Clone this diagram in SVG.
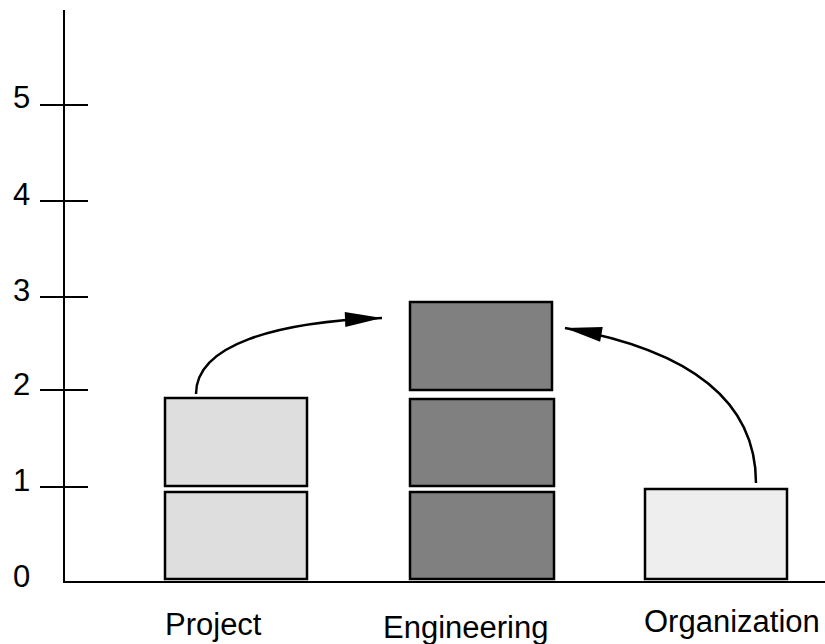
<svg xmlns="http://www.w3.org/2000/svg" width="825" height="644" viewBox="0 0 825 644">
<style>
text{font-family:"Liberation Sans",Arial,sans-serif;font-size:31px;fill:#000}
.ax{stroke:#000;stroke-width:2;fill:none}
.box{stroke:#000;stroke-width:2.5}
.proj{fill:#dedede}
.eng{fill:#808080}
.org{fill:#eeeeee}
.arc{stroke:#000;stroke-width:2.5;fill:none;marker-end:url(#ah)}
</style>
<defs>
<marker id="ah" markerUnits="userSpaceOnUse" markerWidth="40" markerHeight="16" refX="37" refY="7.5" orient="auto" overflow="visible">
<path d="M0,0 L37,7.5 L0,15 Z" fill="#000"/>
</marker>
</defs>
<g id="axes">
<line class="ax" x1="64" y1="10" x2="64" y2="583"/>
<line class="ax" x1="63" y1="582" x2="825" y2="582"/>
<line class="ax" x1="40" y1="105" x2="88" y2="105"/>
<line class="ax" x1="40" y1="201" x2="88" y2="201"/>
<line class="ax" x1="40" y1="297" x2="88" y2="297"/>
<line class="ax" x1="40" y1="390" x2="88" y2="390"/>
<line class="ax" x1="40" y1="487" x2="88" y2="487"/>
<text x="13" y="108">5</text>
<text x="13" y="205">4</text>
<text x="13" y="301">3</text>
<text x="13" y="395">2</text>
<text x="13" y="491">1</text>
<text x="13" y="587">0</text>
</g>
<g id="project">
<rect class="box proj" x="165" y="398" width="142" height="88"/>
<rect class="box proj" x="165" y="492" width="142" height="87"/>
<text x="165" y="635">Project</text>
</g>
<g id="engineering">
<rect class="box eng" x="410" y="302" width="142" height="88"/>
<rect class="box eng" x="410" y="399" width="144" height="87"/>
<rect class="box eng" x="410" y="492" width="144" height="87"/>
<text x="383" y="638">Engineering</text>
</g>
<g id="organization">
<rect class="box org" x="645" y="489" width="142" height="90"/>
<text x="644" y="632">Organization</text>
</g>
<g id="connectors">
<path class="arc" d="M196,394 C196,345 275,322 382,318"/>
<path class="arc" d="M756,483 C756,400 690,350 565,328"/>
</g>
</svg>
